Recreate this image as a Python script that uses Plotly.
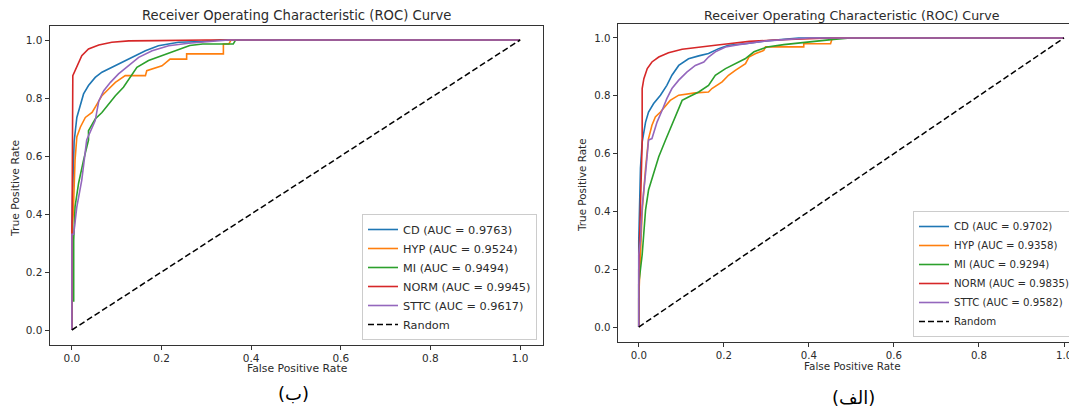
import plotly.graph_objects as go

# ---------------- data ----------------
classes = ["CD", "HYP", "MI", "NORM", "STTC"]
colors = ["#1f77b4", "#ff7f0e", "#2ca02c", "#d62728", "#9467bd"]

auc_b = [0.9763, 0.9524, 0.9494, 0.9945, 0.9617]   # left panel (ب)
auc_a = [0.9702, 0.9358, 0.9294, 0.9835, 0.9582]   # right panel (الف)

# left panel (ب)
cd_b_fpr = [0, 0, 0.003, 0.005, 0.011, 0.019, 0.026, 0.037, 0.052, 0.067, 0.089, 0.112, 0.134, 0.164, 0.193, 0.238, 0.29, 0.33, 1.0]
cd_b_tpr = [0, 0.35, 0.55, 0.65, 0.733, 0.779, 0.814, 0.843, 0.871, 0.889, 0.906, 0.923, 0.94, 0.963, 0.98, 0.992, 0.995, 1.0, 1.0]
hyp_b_fpr = [0, 0, 0.003, 0.005, 0.007, 0.011, 0.019, 0.03, 0.045, 0.056, 0.067, 0.082, 0.097, 0.119, 0.164, 0.167, 0.201, 0.219, 0.256, 0.256, 0.338, 0.338, 0.35, 0.355, 1.0]
hyp_b_tpr = [0, 0.34, 0.40, 0.48, 0.586, 0.666, 0.70, 0.733, 0.75, 0.779, 0.808, 0.831, 0.854, 0.877, 0.877, 0.894, 0.911, 0.934, 0.934, 0.952, 0.952, 0.986, 0.986, 1.0, 1.0]
mi_b_fpr = [0, 0, 0.004, 0.004, 0.007, 0.015, 0.026, 0.037, 0.037, 0.052, 0.067, 0.082, 0.097, 0.115, 0.13, 0.145, 0.171, 0.201, 0.219, 0.263, 0.292, 0.36, 0.365, 1.0]
mi_b_tpr = [0, 0.10, 0.10, 0.31, 0.425, 0.507, 0.586, 0.655, 0.687, 0.728, 0.75, 0.779, 0.808, 0.837, 0.871, 0.906, 0.929, 0.946, 0.958, 0.981, 0.986, 0.986, 1.0, 1.0]
norm_b_fpr = [0, 0, 0.002, 0.011, 0.022, 0.037, 0.06, 0.089, 0.127, 0.19, 0.30, 1.0]
norm_b_tpr = [0, 0.27, 0.877, 0.911, 0.946, 0.969, 0.983, 0.992, 0.997, 0.998, 1.0, 1.0]
sttc_b_fpr = [0, 0, 0.004, 0.011, 0.022, 0.033, 0.052, 0.06, 0.071, 0.086, 0.104, 0.127, 0.149, 0.179, 0.216, 0.26, 0.35, 1.0]
sttc_b_tpr = [0, 0.33, 0.33, 0.425, 0.517, 0.655, 0.722, 0.79, 0.825, 0.854, 0.883, 0.911, 0.94, 0.963, 0.98, 0.989, 1.0, 1.0]

# right panel (الف)
cd_a_fpr = [0, 0, 0.004, 0.008, 0.016, 0.023, 0.035, 0.051, 0.066, 0.078, 0.094, 0.117, 0.141, 0.164, 0.188, 0.211, 0.25, 0.30, 0.376, 1.0]
cd_a_tpr = [0, 0.30, 0.55, 0.64, 0.709, 0.744, 0.773, 0.802, 0.836, 0.871, 0.905, 0.928, 0.938, 0.946, 0.963, 0.975, 0.98, 0.99, 1.0, 1.0]
hyp_a_fpr = [0, 0, 0.004, 0.008, 0.016, 0.023, 0.031, 0.039, 0.051, 0.063, 0.074, 0.094, 0.133, 0.164, 0.172, 0.196, 0.211, 0.227, 0.243, 0.251, 0.259, 0.275, 0.294, 0.298, 0.388, 0.388, 0.451, 0.455, 1.0]
hyp_a_tpr = [0, 0.10, 0.25, 0.40, 0.55, 0.652, 0.698, 0.727, 0.744, 0.767, 0.784, 0.802, 0.81, 0.813, 0.825, 0.848, 0.871, 0.888, 0.905, 0.911, 0.934, 0.946, 0.957, 0.969, 0.969, 0.98, 0.98, 1.0, 1.0]
mi_a_fpr = [0, 0, 0.008, 0.012, 0.016, 0.023, 0.035, 0.047, 0.063, 0.074, 0.086, 0.094, 0.102, 0.117, 0.141, 0.164, 0.18, 0.204, 0.227, 0.25, 0.271, 0.302, 0.341, 0.396, 0.458, 0.498, 1.0]
mi_a_tpr = [0, 0.15, 0.25, 0.325, 0.405, 0.474, 0.532, 0.589, 0.647, 0.686, 0.727, 0.755, 0.784, 0.796, 0.813, 0.836, 0.871, 0.894, 0.911, 0.928, 0.952, 0.969, 0.977, 0.986, 0.995, 1.0, 1.0]
norm_a_fpr = [0, 0, 0.004, 0.008, 0.008, 0.012, 0.02, 0.031, 0.047, 0.07, 0.102, 0.141, 0.18, 0.211, 0.26, 0.32, 0.40, 0.45, 1.0]
norm_a_tpr = [0, 0.20, 0.42, 0.64, 0.825, 0.859, 0.894, 0.917, 0.934, 0.949, 0.961, 0.969, 0.975, 0.98, 0.988, 0.993, 0.997, 1.0, 1.0]
sttc_a_fpr = [0, 0, 0.004, 0.008, 0.016, 0.023, 0.031, 0.043, 0.055, 0.066, 0.078, 0.094, 0.113, 0.133, 0.153, 0.164, 0.18, 0.204, 0.235, 0.30, 0.40, 1.0]
sttc_a_tpr = [0, 0.25, 0.30, 0.416, 0.532, 0.647, 0.652, 0.709, 0.75, 0.79, 0.825, 0.854, 0.882, 0.905, 0.917, 0.934, 0.952, 0.969, 0.977, 0.99, 1.0, 1.0]

random_x = [0, 1]
random_y = [0, 1]

tick_vals = [0.0, 0.2, 0.4, 0.6, 0.8, 1.0]
tick_text = ["0.0", "0.2", "0.4", "0.6", "0.8", "1.0"]

title_text = "Receiver Operating Characteristic (ROC) Curve"
xlabel_text = "False Positive Rate"
ylabel_text = "True Positive Rate"
caption_b = "(ب)"
caption_a = "(الف)"

curves_b = [(cd_b_fpr, cd_b_tpr), (hyp_b_fpr, hyp_b_tpr), (mi_b_fpr, mi_b_tpr), (norm_b_fpr, norm_b_tpr), (sttc_b_fpr, sttc_b_tpr)]
curves_a = [(cd_a_fpr, cd_a_tpr), (hyp_a_fpr, hyp_a_tpr), (mi_a_fpr, mi_a_tpr), (norm_a_fpr, norm_a_tpr), (sttc_a_fpr, sttc_a_tpr)]

FONT = "DejaVu Sans"
TXT = "#2b2b2b"

# the page body has an 8px margin: work in page pixels and convert
OFF = 8
W, H = 1077 - OFF, 413 - OFF


def fx_(px):   # page x -> paper fraction
    return (px - OFF) / W


def fy_(py):   # page y -> paper fraction (from bottom)
    return (H - (py - OFF)) / H


fig = go.Figure()

for curves, aucs, xa, ya, lg in [
        (curves_b, auc_b, "x", "y", "legend"),
        (curves_a, auc_a, "x2", "y2", "legend2")]:
    for name, col, (fx, ty), auc in zip(classes, colors, curves, aucs):
        fig.add_trace(go.Scatter(
            x=fx, y=ty, mode="lines", line=dict(color=col, width=1.6),
            name=f"{name} (AUC = {auc:.4f})", xaxis=xa, yaxis=ya, legend=lg))
    fig.add_trace(go.Scatter(
        x=random_x, y=random_y, mode="lines",
        line=dict(color="black", width=1.5, dash="6px,3px"),
        name="Random", xaxis=xa, yaxis=ya, legend=lg))


def ax_common(size, **kw):
    d = dict(showline=True, linecolor="#333", linewidth=1, ticks="outside",
             ticklen=4, tickcolor="#333", tickwidth=1, showgrid=False, zeroline=False,
             automargin=False, tickvals=tick_vals, ticktext=tick_text,
             tickfont=dict(family=FONT, size=size, color=TXT))
    d.update(kw)
    return d


# right panel: 0 at page x 638, 1 at page x 1064 -> 426 px per unit
right_x_end = (1077 - 638) / 426

fig.update_layout(
    width=W, height=H, autosize=False,
    margin=dict(l=0, r=0, t=0, b=0, autoexpand=False),
    paper_bgcolor="white", plot_bgcolor="white",
    font=dict(family=FONT, color=TXT),
    xaxis=ax_common(10.5, domain=[fx_(49.5), fx_(542.5)], range=[-0.05, 1.05], mirror=True, anchor="y"),
    yaxis=ax_common(10.5, domain=[fy_(344.5), fy_(25.5)], range=[-0.05, 1.05], mirror=True, anchor="x"),
    xaxis2=ax_common(10.2, domain=[fx_(617.5), 1.0], range=[-0.05, right_x_end], mirror=True, anchor="y2"),
    yaxis2=ax_common(10.2, domain=[fy_(341.5), fy_(23.5)], range=[-0.05, 1.05], mirror=False, anchor="x2"),
    legend=dict(xref="container", yref="container", x=fx_(537), y=fy_(340), xanchor="right", yanchor="bottom",
                bgcolor="rgba(255,255,255,0.85)", bordercolor="#cccccc", borderwidth=1,
                font=dict(family=FONT, size=11.3, color=TXT), tracegroupgap=0),
    legend2=dict(xref="container", yref="container", x=fx_(913), y=fy_(337), xanchor="left", yanchor="bottom",
                 bgcolor="rgba(255,255,255,0.85)", bordercolor="#cccccc", borderwidth=1,
                 font=dict(family=FONT, size=10.2, color=TXT), tracegroupgap=0),
    showlegend=True,
)


def note(text, px, py, size, angle=0, color=TXT):
    fig.add_annotation(text=text, x=fx_(px), y=fy_(py), xref="paper", yref="paper",
                       showarrow=False, textangle=angle, xanchor="center", yanchor="middle",
                       font=dict(family=FONT, size=size, color=color))


note(title_text, 296, 15.5, 13.2)
note(title_text, 852, 15.5, 12.6)
note(xlabel_text, 297, 368, 10.8)
note(xlabel_text, 852, 366, 10.4)
note(ylabel_text, 15, 188, 10.8, angle=-90)
note(ylabel_text, 582, 185, 10.4, angle=-90)
note(caption_b, 293, 393, 18, color="black")
note(caption_a, 853, 397, 18, color="black")

fig.write_html("out.html")
